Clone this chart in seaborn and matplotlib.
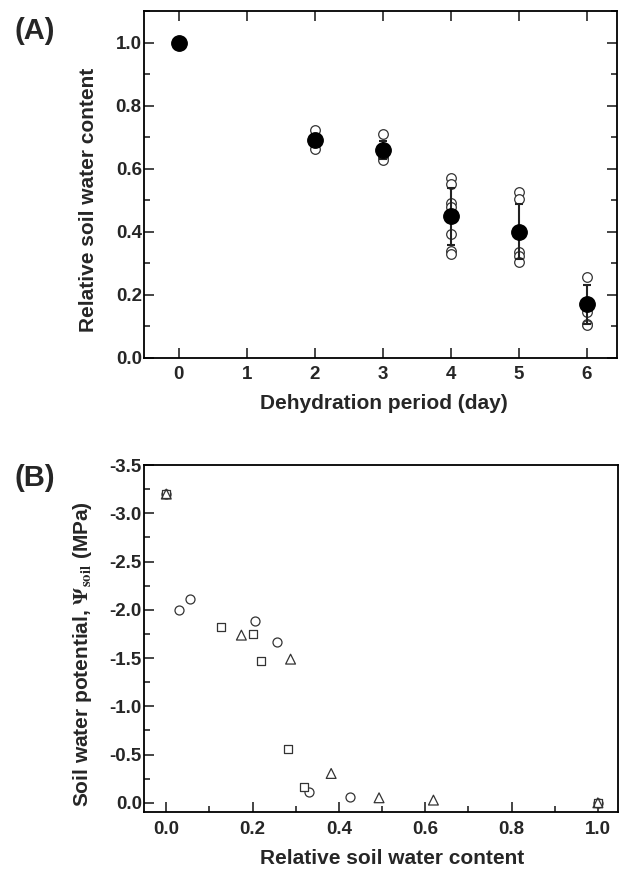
import numpy as np
import pandas as pd
import seaborn as sns
import matplotlib.pyplot as plt
from matplotlib.ticker import MultipleLocator

sns.set_style("ticks")
plt.rcParams['font.family'] = ['Liberation Sans', 'DejaVu Sans']
plt.rcParams['font.weight'] = 'bold'
plt.rcParams['mathtext.fontset'] = 'stix'

# (A) relative soil water content vs dehydration day
days = [0, 2, 3, 4, 5, 6]
mean_rswc = [1.0, 0.692, 0.660, 0.449, 0.401, 0.171]
sd_rswc = [0.0, 0.02, 0.03, 0.09, 0.087, 0.062]

rep_day = [2, 2, 2,
           3, 3, 3,
           4, 4, 4, 4, 4, 4, 4,
           5, 5, 5, 5, 5,
           6, 6, 6, 6]
rep_rswc = [0.724, 0.690, 0.662,
            0.711, 0.639, 0.629,
            0.570, 0.552, 0.491, 0.480, 0.394, 0.341, 0.330,
            0.526, 0.505, 0.335, 0.324, 0.306,
            0.258, 0.147, 0.108, 0.105]

# (B) soil water potential vs relative soil water content
circ_x = [0.0, 0.030, 0.055, 0.205, 0.257, 0.331, 0.426, 1.0]
circ_y = [-3.2, -2.0, -2.11, -1.883, -1.669, -0.107, -0.059, 0.0]
sq_x = [0.0, 0.126, 0.200, 0.220, 0.282, 0.320, 1.0]
sq_y = [-3.2, -1.824, -1.745, -1.472, -0.553, -0.166, 0.0]
tri_x = [0.0, 0.174, 0.288, 0.382, 0.493, 0.619, 1.0]
tri_y = [-3.2, -1.738, -1.489, -0.304, -0.052, -0.028, 0.0]

fig = plt.figure(figsize=(6.2, 8.71), dpi=100)
axA = fig.add_axes([0.232, 0.589, 0.763, 0.398])
axB = fig.add_axes([0.232, 0.068, 0.765, 0.398])

tick_fs = 13.5
lab_fs = 15
edge = '#333333'

# ---- panel A
reps = pd.DataFrame({'day': rep_day, 'rswc': rep_rswc})
sns.scatterplot(data=reps, x='day', y='rswc', ax=axA, marker='o', s=48,
                facecolor='white', edgecolor=edge, linewidth=0.9, zorder=2)
axA.errorbar(days, mean_rswc, yerr=sd_rswc, fmt='none', ecolor='#222222',
             elinewidth=1.5, capsize=3, capthick=1.5, zorder=3)
means = pd.DataFrame({'day': days, 'rswc': mean_rswc})
sns.scatterplot(data=means, x='day', y='rswc', ax=axA, marker='o', s=125,
                color='black', edgecolor='black', zorder=4)

axA.set_xlim(-0.51, 6.44)
axA.set_ylim(0, 1.1)
axA.xaxis.set_major_locator(MultipleLocator(1))
axA.yaxis.set_major_locator(MultipleLocator(0.2))
axA.yaxis.set_minor_locator(MultipleLocator(0.1))
axA.yaxis.set_major_formatter(plt.FormatStrFormatter('%.1f'))
axA.tick_params(which='both', direction='in', top=True, right=True,
                labelsize=tick_fs, width=1.2)
axA.tick_params(which='major', length=7)
axA.tick_params(which='minor', length=4)
axA.tick_params(axis='x', pad=6)
axA.tick_params(axis='y', pad=1.5)
axA.set_xlabel('Dehydration period (day)', fontsize=lab_fs, fontweight='bold', va='top')
axA.set_ylabel('Relative soil water content', fontsize=lab_fs, fontweight='bold')
axA.xaxis.set_label_coords(0.508, -0.104)
axA.yaxis.set_label_coords(-0.097, 0.457)
fig.text(0.024, 0.964, '(A)', fontsize=21, fontweight='bold', va='center')

# ---- panel B
sns.scatterplot(x=circ_x, y=circ_y, ax=axB, marker='o', s=42,
                facecolor='white', edgecolor=edge, linewidth=0.9, zorder=3)
sns.scatterplot(x=sq_x, y=sq_y, ax=axB, marker='s', s=30,
                facecolor='white', edgecolor=edge, linewidth=0.9, zorder=3)
sns.scatterplot(x=tri_x, y=tri_y, ax=axB, marker='^', s=50,
                facecolor='none', edgecolor=edge, linewidth=0.9, zorder=4)

axB.set_xlim(-0.052, 1.047)
axB.set_ylim(0.093, -3.5)
axB.xaxis.set_major_locator(MultipleLocator(0.2))
axB.xaxis.set_minor_locator(MultipleLocator(0.1))
axB.yaxis.set_major_locator(MultipleLocator(0.5))
axB.yaxis.set_minor_locator(MultipleLocator(0.25))
axB.xaxis.set_major_formatter(plt.FormatStrFormatter('%.1f'))
axB.yaxis.set_major_formatter(plt.FormatStrFormatter('%.1f'))
axB.tick_params(which='both', direction='in', labelsize=tick_fs, width=1.2)
axB.tick_params(which='major', length=7)
axB.tick_params(which='minor', length=4)
axB.tick_params(axis='x', pad=7)
axB.tick_params(axis='y', pad=1.5)
axB.set_xlabel('Relative soil water content', fontsize=lab_fs, fontweight='bold', va='top')
axB.set_ylabel(r'Soil water potential, $\Psi_{\mathrm{soil}}$ (MPa)',
               fontsize=lab_fs, fontweight='bold')
axB.xaxis.set_label_coords(0.524, -0.108)
axB.yaxis.set_label_coords(-0.105, 0.455)
fig.text(0.024, 0.451, '(B)', fontsize=21, fontweight='bold', va='center')

for ax in (axA, axB):
    for sp in ax.spines.values():
        sp.set_linewidth(1.3)
        sp.set_color('black')
    for lbl in ax.get_xticklabels() + ax.get_yticklabels():
        lbl.set_fontweight('bold')

fig.savefig('out.png', dpi=100)
